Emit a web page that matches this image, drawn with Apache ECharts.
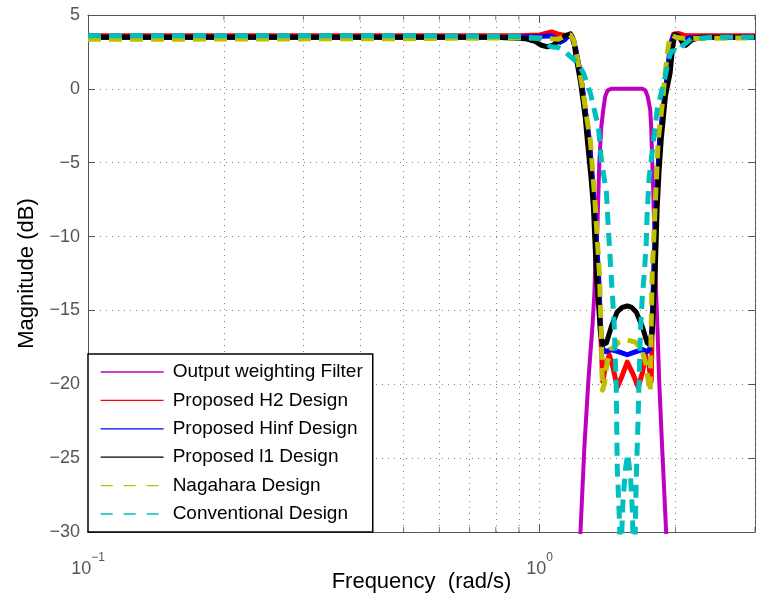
<!DOCTYPE html>
<html><head><meta charset="utf-8">
<script src="https://cdn.jsdelivr.net/npm/echarts@6/dist/echarts.min.js"></script>
<style>html,body{margin:0;padding:0;background:#fff}#c{width:757px;height:600px}</style>
</head><body><div id="c"></div>
<script>
// ---- data (frequency rad/s, magnitude dB) ----
const seriesNames = ['Output weighting Filter','Proposed H2 Design','Proposed Hinf Design','Proposed l1 Design','Nagahara Design','Conventional Design'];
const seriesColors = ['#bf00bf','#ff0000','#0000ff','#000000','#bfbf00','#00bfbf'];

const filterCurve = [[1.20,-36],[1.232,-30],[1.257,-24.2],[1.283,-19.7],[1.310,-16],[1.323,-13.8],[1.329,-11.6],[1.343,-9.4],[1.350,-7],[1.357,-4.8],[1.370,-2.6],[1.384,-1.4],[1.398,-0.5],[1.415,-0.1],[1.44,0],[1.55,0],[1.69,0],[1.715,-0.1],[1.735,-0.5],[1.758,-1.4],[1.767,-2.6],[1.776,-4.8],[1.786,-7],[1.794,-9.4],[1.803,-11.6],[1.812,-13.8],[1.826,-16.5],[1.840,-19.7],[1.868,-24.2],[1.907,-30],[1.95,-36]];

const h2Curve = [[0.1,3.6],[0.9,3.6],[1.0,3.65],[1.063,3.85],[1.10,3.7],[1.15,3.6],[1.18,3.55],[1.20,2.8],[1.232,1.0],[1.263,-1.5],[1.289,-3.5],[1.323,-8],[1.350,-12.5],[1.366,-16.5],[1.380,-19.8],[1.40,-18.8],[1.427,-18.0],[1.455,-18.9],[1.486,-20.2],[1.52,-19.5],[1.564,-18.5],[1.61,-19.3],[1.654,-20.2],[1.69,-19.2],[1.714,-18.0],[1.745,-18.6],[1.767,-19.8],[1.775,-16.5],[1.792,-12.5],[1.814,-8],[1.845,-3.5],[1.92,1.07],[1.95,3.0],[1.98,3.7],[2.03,3.75],[2.1,3.6],[3,3.6]];

const hinfCurve = [[0.1,3.5],[0.9,3.5],[1.0,3.55],[1.063,3.6],[1.09,3.35],[1.11,3.15],[1.135,3.3],[1.16,3.6],[1.18,3.55],[1.20,2.8],[1.232,1.0],[1.263,-1.5],[1.289,-3.5],[1.323,-8],[1.350,-12.5],[1.367,-16.5],[1.38,-17.6],[1.40,-17.8],[1.44,-17.65],[1.50,-17.8],[1.564,-18.0],[1.63,-17.8],[1.69,-17.65],[1.73,-17.8],[1.755,-17.6],[1.771,-16.5],[1.79,-12.5],[1.812,-8],[1.844,-3.5],[1.92,1.07],[1.95,3.0],[1.98,3.6],[2.02,3.55],[2.08,3.35],[2.15,3.45],[2.3,3.5],[3,3.5]];

const l1Curve = [[0.1,3.5],[0.5,3.5],[0.8,3.5],[0.93,3.4],[0.98,3.2],[1.01,2.95],[1.04,2.85],[1.07,2.95],[1.10,3.25],[1.14,3.6],[1.171,3.72],[1.19,3.3],[1.207,2.0],[1.232,0.5],[1.263,-2],[1.276,-3.5],[1.30,-6],[1.316,-8],[1.336,-12.5],[1.364,-16.5],[1.38,-17.3],[1.406,-17.2],[1.442,-16.1],[1.486,-15.1],[1.525,-14.8],[1.564,-14.7],[1.60,-14.8],[1.637,-15.1],[1.689,-16.1],[1.732,-17.2],[1.752,-17.3],[1.776,-16.5],[1.803,-12.5],[1.822,-8],[1.84,-5.5],[1.859,-3.5],[1.90,-0.5],[1.946,1.07],[1.97,2.8],[1.996,3.7],[2.03,3.6],[2.07,3.15],[2.11,2.95],[2.17,3.3],[2.28,3.5],[3,3.5]];

const nagaharaCurve = [[0.1,3.35],[0.5,3.4],[0.9,3.45],[1.0,3.45],[1.06,3.4],[1.10,3.35],[1.14,3.6],[1.17,3.65],[1.19,3.3],[1.21,2.2],[1.24,0.4],[1.27,-1.8],[1.296,-3.5],[1.329,-8],[1.357,-12.5],[1.370,-16.5],[1.378,-20.4],[1.391,-20.0],[1.41,-18.6],[1.442,-17.6],[1.50,-17.15],[1.564,-17.0],[1.63,-17.15],[1.68,-17.6],[1.72,-18.6],[1.745,-20.0],[1.758,-20.5],[1.766,-16.5],[1.776,-12.5],[1.803,-8],[1.831,-3.5],[1.87,-1],[1.897,1.07],[1.93,3.0],[1.96,3.65],[2.0,3.5],[2.1,3.4],[3,3.45]];

const conventionalCurve = [[0.1,3.6],[0.5,3.6],[0.9,3.55],[1.0,3.4],[1.03,3.1],[1.06,2.85],[1.10,2.8],[1.14,2.5],[1.18,2.1],[1.21,1.8],[1.251,1.07],[1.296,-0.3],[1.350,-2.6],[1.370,-4.8],[1.406,-7],[1.420,-9.4],[1.434,-11.6],[1.449,-13.8],[1.464,-16.1],[1.479,-20.4],[1.486,-25.6],[1.50,-28.5],[1.512,-32],[1.53,-28],[1.549,-25.8],[1.568,-24.7],[1.59,-26.3],[1.605,-28.5],[1.615,-32],[1.629,-30],[1.637,-26.5],[1.654,-22],[1.672,-16.5],[1.689,-14],[1.706,-12.5],[1.723,-10.4],[1.732,-8.2],[1.749,-6],[1.785,-3.7],[1.822,-1.4],[1.897,0.8],[1.93,2.0],[1.96,2.55],[2.0,2.6],[2.03,2.5],[2.07,2.9],[2.17,3.4],[2.45,3.5],[3,3.5]];

const xMinorTicks = [0.2,0.3,0.4,0.5,0.6,0.7,0.8,0.9,2,3];
const xRange = [0.1, 3];
const yRange = [-30, 5];
const yStep = 5;

// ---- chart ----
const FONT = '"Liberation Sans", Arial, Helvetica, sans-serif';
const chart = echarts.init(document.getElementById('c'), null, {renderer:'canvas'});
const dotted = {type:[1,5], color:'#808080', width:1};
const curves = [filterCurve, h2Curve, hinfCurve, l1Curve, nagaharaCurve, conventionalCurve];
const dashed = [false,false,false,false,true,true];
const widths = [4,5,5,5,5,5];

const series = curves.map((d,i)=>({
  name: seriesNames[i], type:'line', data:d, symbol:'none', showSymbol:false,
  xAxisIndex:0, yAxisIndex:0, z: 3+i, animation:false,
  lineStyle:{color:seriesColors[i], width:widths[i], type: dashed[i]?[13,8]:'solid', cap:'butt', join:'round'},
  itemStyle:{color:seriesColors[i]},
  emphasis:{disabled:true}
}));
// minor grid lines
series.unshift({
  type:'line', data:[], xAxisIndex:0, yAxisIndex:0, z:1, silent:true, animation:false,
  markLine:{silent:true, symbol:'none', label:{show:false}, animation:false,
    lineStyle:dotted, emphasis:{disabled:true},
    data: xMinorTicks.map(v=>({xAxis:v}))}
});
// minor tick marks (bottom and top)
series.push({type:'scatter', silent:true, clip:false, animation:false, z:20, xAxisIndex:0, yAxisIndex:0,
  data:xMinorTicks.map(v=>[v,yRange[0]]), symbol:'rect', symbolSize:[1,5], symbolOffset:[0,-2.5], itemStyle:{color:'#555'}});
series.push({type:'scatter', silent:true, clip:false, animation:false, z:20, xAxisIndex:0, yAxisIndex:0,
  data:xMinorTicks.map(v=>[v,yRange[1]]), symbol:'rect', symbolSize:[1,5], symbolOffset:[0,2.5], itemStyle:{color:'#555'}});

function decadeLabel(v){
  const l = Math.log10(v), e = Math.round(l);
  if (Math.abs(l-e) > 1e-6) return '';
  return '{b|10}{s|' + (e<0 ? '\u2212'+(-e) : e) + '}';
}
const axisCol = '#555';

chart.setOption({
  animation:false,
  backgroundColor:'#fff',
  grid:{left:88, right:2, top:15, bottom:68, show:false, containLabel:false, outerBoundsMode:'none'},
  xAxis:[{
    type:'log', logBase:10, min:xRange[0], max:xRange[1], position:'bottom',
    axisLine:{show:true, onZero:false, lineStyle:{color:axisCol, width:1}},
    axisTick:{show:true, inside:true, length:8, lineStyle:{color:axisCol}},
    minorTick:{show:false},
    axisLabel:{formatter:decadeLabel, margin:20, color:'#555',
      rich:{ b:{fontSize:18, fontFamily:FONT, color:'#555', lineHeight:26, verticalAlign:'bottom'},
             s:{fontSize:12, fontFamily:FONT, color:'#555', lineHeight:14, verticalAlign:'top'} }},
    splitLine:{show:true, lineStyle:dotted},
    name:'Frequency  (rad/s)', nameLocation:'middle', nameGap:39, nameMoveOverlap:false,
    nameTextStyle:{fontSize:22, color:'#000', fontFamily:FONT}
  },{
    type:'log', logBase:10, min:xRange[0], max:xRange[1], position:'top',
    axisLine:{show:true, onZero:false, lineStyle:{color:axisCol, width:1}},
    axisTick:{show:true, inside:true, length:8, lineStyle:{color:axisCol}},
    axisLabel:{show:false}, splitLine:{show:false}
  }],
  yAxis:[{
    type:'value', min:yRange[0], max:yRange[1], interval:yStep, position:'left',
    axisLine:{show:true, onZero:false, lineStyle:{color:axisCol, width:1}},
    axisTick:{show:true, inside:true, length:7, lineStyle:{color:axisCol}},
    axisLabel:{fontSize:18, fontFamily:FONT, color:'#555', margin:8,
      formatter:v => v<0 ? '\u2212'+(-v) : String(v)},
    splitLine:{show:true, lineStyle:dotted},
    name:'Magnitude (dB)', nameLocation:'middle', nameGap:50, nameRotate:90, nameMoveOverlap:false,
    nameTextStyle:{fontSize:22, color:'#000', fontFamily:FONT}
  },{
    type:'value', min:yRange[0], max:yRange[1], interval:yStep, position:'right',
    axisLine:{show:true, onZero:false, lineStyle:{color:axisCol, width:1}},
    axisTick:{show:true, inside:true, length:7, lineStyle:{color:axisCol}},
    axisLabel:{show:false}, splitLine:{show:false}
  }],
  legend:{
    orient:'vertical', left:88, top:354, padding:[8,10,8,12],
    itemWidth:63, itemHeight:20, itemGap:8.4,
    backgroundColor:'#fff', borderColor:'#000', borderWidth:1.5, borderRadius:0,
    selectedMode:false, z:30,
    itemStyle:{opacity:0},
    textStyle:{fontSize:19, lineHeight:20, fontFamily:FONT, color:'#000', padding:[0,0,0,4]},
    data: seriesNames.map((n,i)=>({name:n,
      lineStyle:{width:1.3, type: dashed[i]?[12,11]:'solid', color:seriesColors[i]}}))
  },
  series
});
</script></body></html>
